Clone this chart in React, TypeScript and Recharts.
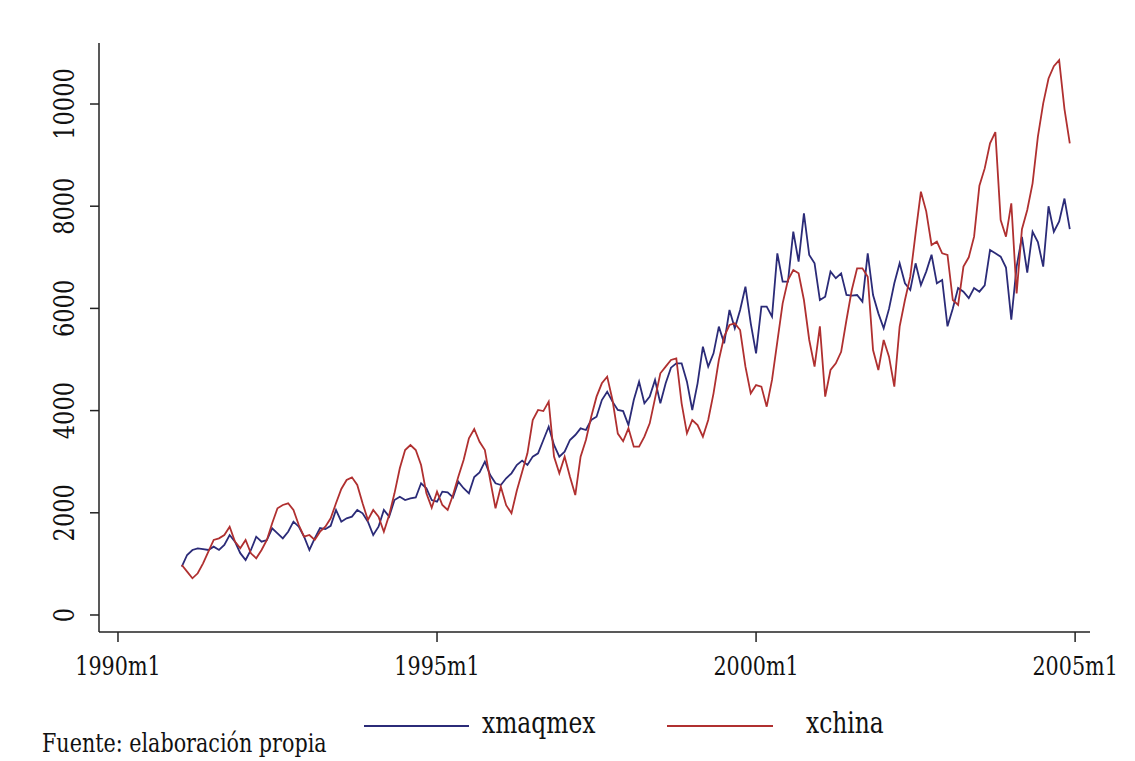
import React from 'react';
import { LineChart, Line, XAxis, YAxis } from 'recharts';

// monthly series, 1991m1 .. 2004m12
const xmaqmex = [
  945, 1174, 1272, 1305, 1290, 1272, 1337, 1272, 1370, 1565, 1435, 1210,
  1076, 1272, 1532, 1435, 1467, 1696, 1598, 1500, 1630, 1826, 1728, 1532,
  1272, 1500, 1700, 1680, 1745, 2055, 1826, 1892, 1924, 2055, 1990, 1826,
  1565, 1728, 2055, 1924, 2250, 2315, 2250, 2283, 2300, 2577, 2480, 2250,
  2218, 2413, 2400, 2300, 2609, 2480, 2380, 2700, 2790, 3000, 2740, 2577,
  2544, 2675, 2772, 2935, 3020, 2935, 3099, 3164, 3425, 3685, 3327, 3099,
  3197, 3425, 3522, 3653, 3620, 3816, 3881, 4207, 4370, 4175, 4012, 3990,
  3718, 4207, 4566, 4142, 4273, 4599, 4142, 4534, 4840, 4925, 4925, 4566,
  4012, 4534, 5251, 4860, 5121, 5643, 5316, 5969, 5610, 5969, 6425, 5708,
  5121, 6035, 6035, 5838, 7078, 6523, 6523, 7502, 6914, 7861, 7045, 6882,
  6164, 6230, 6719, 6590, 6686, 6262, 6250, 6262, 6132, 7078, 6262, 5903,
  5610, 5990, 6491, 6882, 6491, 6360, 6882, 6458, 6720, 7050, 6491, 6556,
  5650, 6000, 6400, 6327, 6200, 6400, 6327, 6450, 7143, 7078, 7012, 6800,
  5780, 6817, 7400, 6700, 7500, 7300, 6817, 8000, 7500, 7700, 8150, 7550,
];

const xchina = [
  978, 848, 718, 816, 1011, 1240, 1468, 1500, 1565, 1728, 1435, 1305,
  1468, 1207, 1109, 1272, 1468, 1794, 2088, 2153, 2186, 2055, 1761, 1532,
  1565, 1468, 1630, 1728, 1892, 2186, 2466, 2642, 2694, 2544, 2186, 1859,
  2055, 1924, 1630, 1957, 2381, 2870, 3229, 3327, 3229, 2935, 2381, 2100,
  2413, 2153, 2055, 2348, 2707, 3033, 3457, 3640, 3390, 3229, 2640, 2088,
  2511, 2150, 1990, 2430, 2800, 3164, 3816, 4012, 3990, 4175, 3099, 2772,
  3099, 2707, 2348, 3099, 3425, 3881, 4273, 4534, 4664, 4207, 3550, 3400,
  3653, 3294, 3294, 3490, 3751, 4240, 4730, 4860, 4990, 5023, 4142, 3555,
  3816, 3718, 3490, 3816, 4338, 4990, 5447, 5675, 5708, 5577, 4860, 4338,
  4500, 4469, 4077, 4600, 5350, 6099, 6556, 6751, 6686, 6164, 5382, 4860,
  5650, 4273, 4795, 4925, 5150, 5773, 6360, 6784, 6784, 6621, 5186, 4795,
  5382, 5055, 4469, 5643, 6164, 6621, 7469, 8284, 7900, 7241, 7306, 7078,
  7045, 6164, 6070, 6817, 7000, 7404, 8400, 8740, 9230, 9450, 7730, 7404,
  8057, 6295, 7550, 7926, 8448, 9360, 10013, 10500, 10740, 10860, 9900, 9230,
];

const xTicks = [0, 60, 120, 180];
const xTickLabels = ['1990m1', '1995m1', '2000m1', '2005m1'];
const yTicks = [0, 2000, 4000, 6000, 8000, 10000];

const seriesKeys = ['xmaqmex', 'xchina'];
const seriesColors = ['#2b2b78', '#b03030'];
const source = 'Fuente: elaboración propia';

const FONT = "'DejaVu Serif Condensed', 'DejaVu Serif', serif";
const textStyle: React.CSSProperties = { fontFamily: FONT, fontStretch: 'condensed' };
const STRETCH = 1.15; // the original glyphs are a bit taller than DejaVu's

// months since 1990m1; first observation is 1991m1
const data = xmaqmex.map((v, i) => ({ t: 12 + i, xmaqmex: v, xchina: xchina[i] }));

const Label = ({ x, y, size, children, rotate = 0, anchor = 'start' }: any) => (
  <text
    transform={`translate(${x}, ${y}) rotate(${rotate}) scale(1, ${STRETCH})`}
    textAnchor={anchor}
    fill="#111"
    fontSize={size}
    style={textStyle}
  >
    {children}
  </text>
);

const XTick = (props: any) => {
  const { x, y, payload } = props;
  const idx = xTicks.indexOf(payload.value);
  return <Label x={x} y={y + 31} size={23} anchor="middle">{xTickLabels[idx]}</Label>;
};

const YTick = (props: any) => {
  const { x, y, payload } = props;
  return <Label x={x - 14} y={y} size={25} rotate={-90} anchor="middle">{payload.value}</Label>;
};

const App = () => {
  return (
    <div style={{ position: 'absolute', left: 0, top: 0, width: 1135, height: 761, background: '#fff' }}>
      <LineChart width={1135} height={761} data={data} margin={{ top: 43, right: 45, bottom: 99, left: 39 }}>
        <XAxis
          dataKey="t"
          type="number"
          domain={[-3.57, 182.8]}
          allowDataOverflow
          ticks={xTicks}
          tick={<XTick />}
          tickSize={10}
          height={30}
          stroke="#222"
          strokeWidth={1.5}
        />
        <YAxis
          type="number"
          domain={[-333, 11194]}
          allowDataOverflow
          ticks={yTicks}
          tick={<YTick />}
          tickSize={9}
          width={60}
          stroke="#222"
          strokeWidth={1.5}
        />
        {seriesKeys.map((k, i) => (
          <Line
            key={k}
            type="linear"
            dataKey={k}
            stroke={seriesColors[i]}
            strokeWidth={1.8}
            dot={false}
            isAnimationActive={false}
          />
        ))}
      </LineChart>
      <svg width={1135} height={761} style={{ position: 'absolute', left: 0, top: 0, pointerEvents: 'none' }}>
        <line x1={364} y1={726} x2={469} y2={726} stroke={seriesColors[0]} strokeWidth={2} />
        <Label x={482} y={733} size={26}>{seriesKeys[0]}</Label>
        <line x1={667} y1={726} x2={773} y2={726} stroke={seriesColors[1]} strokeWidth={2} />
        <Label x={806} y={733} size={26}>{seriesKeys[1]}</Label>
        <Label x={42} y={752} size={23}>{source}</Label>
      </svg>
    </div>
  );
};

export default App;
